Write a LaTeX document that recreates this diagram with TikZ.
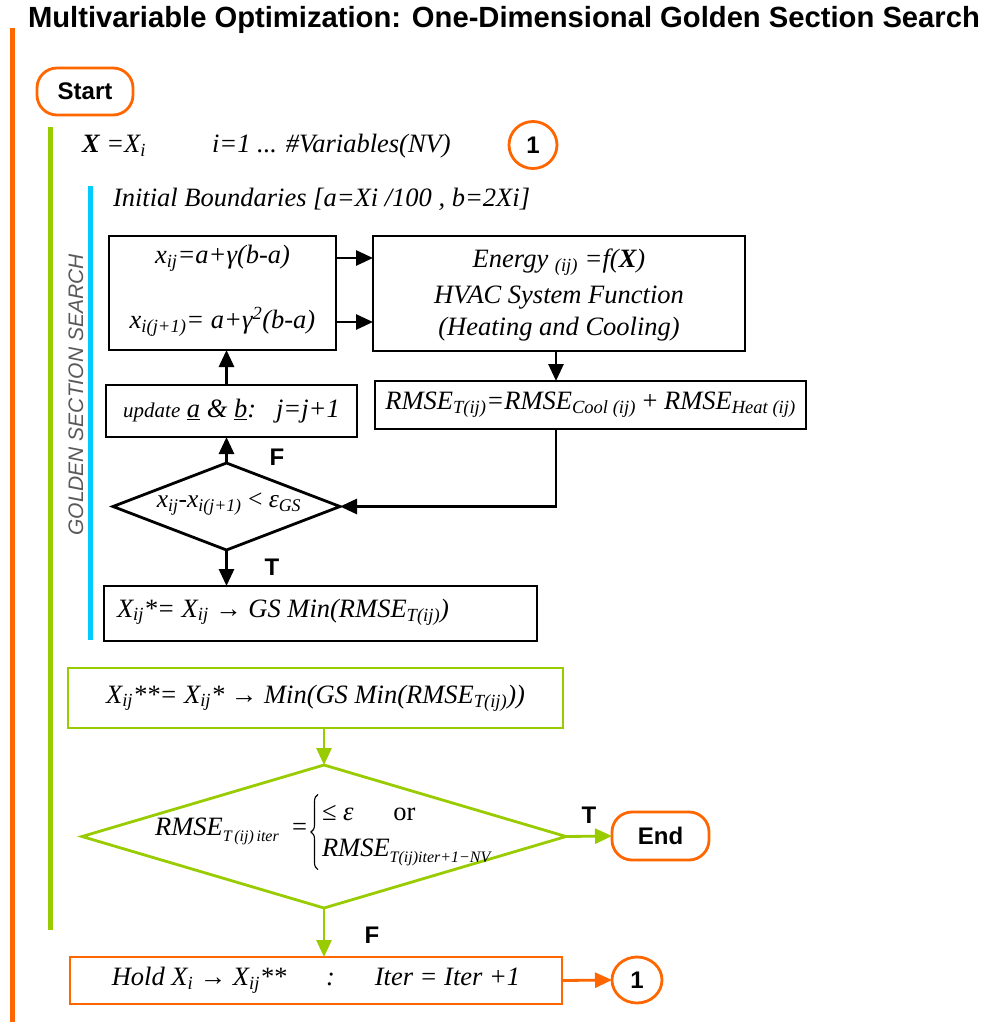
\documentclass[tikz,border=0pt]{standalone}
\usepackage{fontspec}
\setmainfont{Liberation Serif}
\newfontfamily\arialfont{Liberation Sans}
\usetikzlibrary{arrows.meta,shapes.geometric,calc,decorations.pathreplacing}

\definecolor{flowOrange}{RGB}{255,102,0}
\definecolor{flowGreen}{RGB}{153,204,0}
\definecolor{flowCyan}{RGB}{0,204,255}
\definecolor{labelGray}{RGB}{89,89,89}

\newcommand{\sbs}[1]{\textsubscript{#1}}
% small lowered index used in the stopping test
\newcommand{\lowidx}[1]{\raisebox{-6pt}{\fontsize{16}{18}\selectfont #1}}

\tikzset{
  every node/.style={inner sep=0pt, outer sep=0pt},
  serif/.style={font=\fontsize{26.5}{31}\selectfont\itshape},
  serifsm/.style={font=\fontsize{25.5}{30}\selectfont\itshape},
  sansb/.style={font=\arialfont\bfseries\fontsize{24}{28}\selectfont},
  blkbox/.style={draw=black, line width=2.8pt, rectangle},
  grnbox/.style={draw=flowGreen, line width=2.8pt, rectangle},
  orgbox/.style={draw=flowOrange, line width=2.8pt, rectangle},
  term/.style={draw=flowOrange, line width=2.8pt, rectangle, rounded corners=20pt, sansb},
  conn/.style={draw=flowOrange, line width=2.8pt, ellipse, sansb},
  decision/.style={diamond, line width=2.8pt, inner sep=0pt},
  arr/.style={-{Triangle[length=17pt,width=15pt]}, line width=2.8pt},
  bar/.style={line width=5pt},
  casebrace/.style={decorate, decoration={brace, amplitude=7pt}, line width=1.1pt},
}

\begin{document}
\begin{tikzpicture}[x=1pt,y=-1pt]
\useasboundingbox (0,0) rectangle (984,1027);

% title and nesting bars
\node[anchor=west, font=\arialfont\bfseries\fontsize{29.2}{34}\selectfont] (title) at (28,20)
  {Multivariable Optimization: One-Dimensional Golden Section Search};
\draw[bar, flowOrange] (12,28) -- (12,1022);
\draw[bar, flowGreen] (50,127) -- (50,930);
\draw[bar, flowCyan] (90,186) -- (90,640);
\node[rotate=90, text=labelGray, font=\arialfont\itshape\fontsize{21}{25}\selectfont] (gsslabel) at (76,395)
  {GOLDEN SECTION SEARCH};

% start and variable loop
\node[term, minimum width=96pt, minimum height=47pt] (start) at (85,91.5) {Start};
\node[serif, anchor=base west] (xdef) at (82,153) {\textbf{X} =X\sbs{i}};
\node[serif, anchor=base west] (irange) at (212,153) {i=1 ... \#Variables(NV)};
\node[conn, minimum width=48pt, minimum height=47pt] (c1) at (533,145) {1};

\node[serif, anchor=base west] (bounds) at (113,206) {Initial Boundaries [a=Xi /100 , b=2Xi]};

% golden section points
\node[blkbox, minimum width=227pt, minimum height=114pt] (pts) at (222.5,293) {};
\node[serif] (pt1) at (222.5,258) {x\sbs{ij}=a+γ(b-a)};
\node[serif] (pt2) at (222.5,322) {x\sbs{i(j+1)}= a+γ\textsuperscript{2}(b-a)};

% energy model
\node[blkbox, minimum width=372pt, minimum height=115pt] (energy) at (559,293.5) {};
\node[serif] (en1) at (559,262) {Energy \sbs{(ij)} =f(\textbf{X})};
\node[serif] (en2) at (559,298) {HVAC System Function};
\node[serif] (en3) at (559,329) {(Heating and Cooling)};

\node[blkbox, minimum width=431pt, minimum height=48pt, serif] (rmse) at (590.5,405)
  {RMSE\sbs{T(ij)}=RMSE\sbs{Cool (ij)} \textup{+} RMSE\sbs{Heat (ij)}};

\node[blkbox, minimum width=251pt, minimum height=52pt, serif] (upd) at (231.5,411)
  {{\fontsize{21}{25}\selectfont update} \underline{a} \& \underline{b}:\ \ \ j=j+1};

\node[decision, draw=black, minimum width=227pt, minimum height=87pt] (d1) at (226.5,506.5) {};
\node[serifsm] (d1txt) at (229,504) {x\sbs{ij}-x\sbs{i(j+1)} \textup{<} ε\sbs{GS}};

\node[blkbox, minimum width=433pt, minimum height=55pt] (gs) at (320.5,613.5) {};
\node[serif, anchor=west] (gstxt) at (117,612)
  {X\sbs{ij}*= X\sbs{ij} \textup{→} GS Min(RMSE\sbs{T(ij)})};

% outer loop
\node[grnbox, minimum width=495pt, minimum height=60pt, serif] (best) at (315.5,698)
  {X\sbs{ij}**= X\sbs{ij}* \textup{→} Min(GS Min(RMSE\sbs{T(ij)}))};

\node[decision, draw=flowGreen, minimum width=484pt, minimum height=143pt] (d2) at (324,836.5) {};
\node[serif, anchor=base east] (d2lhs) at (307,835)
  {RMSE\lowidx{T\,(ij)\,iter}\ \ \textup{=}};
\node[serif, anchor=west] (d2cases) at (322,832)
  {\begin{tabular}{@{}l@{}}\textup{≤} ε \quad\ \textup{or}\\[5pt]
   RMSE\lowidx{T(ij)iter+1−NV}\end{tabular}};
\draw[casebrace] ([xshift=-4pt,yshift=-4pt]d2cases.south west) -- ([xshift=-4pt,yshift=4pt]d2cases.north west);

\node[term, minimum width=97pt, minimum height=48pt] (end) at (660.5,836) {End};

\node[orgbox, minimum width=492pt, minimum height=47pt, serif] (hold) at (316,980.5)
  {Hold X\sbs{i} \textup{→} X\sbs{ij}** \quad\ :\quad\ \ Iter = Iter +1};
\node[conn, minimum width=50pt, minimum height=46pt] (c2) at (637,980) {1};

% connectors inside the search
\draw[arr] (pts.east |- pt1) -- (energy.west |- pt1);
\draw[arr] (pts.east |- pt2) -- (energy.west |- pt2);
\coordinate (ex) at (556,0);
\draw[arr] (ex |- energy.south) -- (ex |- rmse.north);
\draw[arr] (ex |- rmse.south) -- (ex |- d1.east) -- (d1.east);
\draw[arr] (d1.north) -- (d1 |- upd.south);
\draw[arr] (d1 |- upd.north) -- (d1 |- pts.south);
\draw[arr] (d1.south) -- (d1 |- gs.north);

\draw[arr, flowGreen] (d2 |- best.south) -- (d2.north);
\draw[arr, flowGreen] (d2.east) -- (end.west);
\draw[arr, flowGreen] (d2.south) -- (d2 |- hold.north);
\draw[arr, flowOrange] (hold.east) -- (c2.west);

% branch labels
\node[sansb] (f1) at (277,457) {F};
\node[sansb] (t1) at (272,567) {T};
\node[sansb] (t2) at (589,815) {T};
\node[sansb] (f2) at (372,935) {F};
\end{tikzpicture}
\end{document}
